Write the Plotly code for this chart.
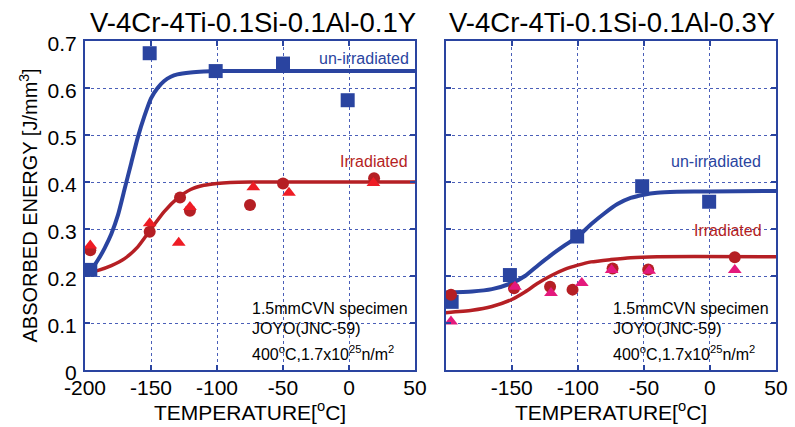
import plotly.graph_objects as go

# ---------------- data: left panel (0.1Y) ----------------
L_unirr_T = [-196, -151, -101, -50, -1]
L_unirr_E = [0.213, 0.674, 0.636, 0.652, 0.574]

L_irr_circ_T = [-196, -151, -128, -120.5, -75, -50, 19]
L_irr_circ_E = [0.255, 0.294, 0.367, 0.339, 0.351, 0.397, 0.408]

L_irr_tri_T = [-196, -151, -129, -120.5, -72.5, -45.5, 18.5]
L_irr_tri_E = [0.265, 0.312, 0.271, 0.347, 0.389, 0.377, 0.398]

L_fit_unirr_T = [-200, -195, -190, -185, -180, -175, -170, -165, -160, -155, -150,
                 -145, -140, -135, -130, -120, -110, -100, 50]
L_fit_unirr_E = [0.205, 0.215, 0.235, 0.26, 0.29, 0.33, 0.385, 0.44, 0.495, 0.54, 0.578,
                 0.60, 0.615, 0.624, 0.629, 0.633, 0.635, 0.636, 0.636]

L_fit_irr_T = [-200, -190, -180, -170, -160, -150, -140, -130, -120, -110, -100, -90, -75, 50]
L_fit_irr_E = [0.205, 0.212, 0.222, 0.237, 0.262, 0.300, 0.337, 0.365, 0.384, 0.393,
               0.397, 0.399, 0.400, 0.400]

# ---------------- data: right panel (0.3Y) ----------------
R_unirr_T = [-195.5, -151.4, -100.5, -51.3, -0.6]
R_unirr_E = [0.145, 0.202, 0.284, 0.391, 0.358]

R_irr_circ_T = [-196, -148.3, -121, -104, -73.7, -46.7, 18.8]
R_irr_circ_E = [0.160, 0.174, 0.177, 0.171, 0.216, 0.214, 0.240]

R_irr_tri_T = [-196, -147.6, -120.3, -97, -74.4, -46, 18.8]
R_irr_tri_E = [0.103, 0.177, 0.164, 0.185, 0.213, 0.211, 0.213]

R_fit_unirr_T = [-200, -180, -165, -150, -140, -130, -120, -110, -100, -90, -80, -70,
                 -60, -50, -40, -25, 0, 50]
R_fit_unirr_E = [0.165, 0.167, 0.172, 0.185, 0.20, 0.223, 0.245, 0.265, 0.284, 0.31,
                 0.333, 0.353, 0.366, 0.373, 0.377, 0.379, 0.380, 0.381]

R_fit_irr_T = [-200, -180, -165, -150, -140, -130, -120, -110, -100, -90, -75, -60, -40, 50]
R_fit_irr_E = [0.122, 0.127, 0.135, 0.150, 0.166, 0.185, 0.201, 0.214, 0.223, 0.230,
               0.235, 0.239, 0.241, 0.241]

titles = ["V-4Cr-4Ti-0.1Si-0.1Al-0.1Y", "V-4Cr-4Ti-0.1Si-0.1Al-0.3Y"]
y_ticks = [0, 0.1, 0.2, 0.3, 0.4, 0.5, 0.6, 0.7]
y_tick_text = ["0", "0.1", "0.2", "0.3", "0.4", "0.5", "0.6", "0.7"]
L_x_ticks = [-200, -150, -100, -50, 0, 50]
L_x_text = ["-200", "-150", "-100", "-50", "0", "50"]
R_x_ticks = [-200, -150, -100, -50, 0, 50]
R_x_text = ["", "-150", "-100", "-50", "0", "50"]

BLUE = "#2a44a0"
RED = "#b51f24"
TRI_L = "#ee1c25"
TRI_R = "#e4197c"
GRID = "#4a5fb8"
FONT = "Liberation Sans, Arial, sans-serif"

fig = go.Figure()

def add_panel(xa, ya, fu_T, fu_E, fi_T, fi_E, u_T, u_E, c_T, c_E, t_T, t_E, tri_col):
    fig.add_trace(go.Scatter(x=fu_T, y=fu_E, mode="lines", line=dict(color=BLUE, width=4, shape="spline", smoothing=0.6),
                             xaxis=xa, yaxis=ya, showlegend=False))
    fig.add_trace(go.Scatter(x=fi_T, y=fi_E, mode="lines", line=dict(color=RED, width=3.5, shape="spline", smoothing=0.6),
                             xaxis=xa, yaxis=ya, showlegend=False))
    fig.add_trace(go.Scatter(x=u_T, y=u_E, mode="markers", marker=dict(symbol="square", size=14, color=BLUE),
                             xaxis=xa, yaxis=ya, showlegend=False, cliponaxis=False))
    fig.add_trace(go.Scatter(x=c_T, y=c_E, mode="markers", marker=dict(symbol="circle", size=12, color=RED),
                             xaxis=xa, yaxis=ya, showlegend=False, cliponaxis=False))
    fig.add_trace(go.Scatter(x=t_T, y=t_E, mode="markers", marker=dict(symbol="triangle-up", size=12, color=tri_col),
                             xaxis=xa, yaxis=ya, showlegend=False, cliponaxis=False))

add_panel("x", "y", L_fit_unirr_T, L_fit_unirr_E, L_fit_irr_T, L_fit_irr_E,
          L_unirr_T, L_unirr_E, L_irr_circ_T, L_irr_circ_E, L_irr_tri_T, L_irr_tri_E, TRI_L)
add_panel("x2", "y2", R_fit_unirr_T, R_fit_unirr_E, R_fit_irr_T, R_fit_irr_E,
          R_unirr_T, R_unirr_E, R_irr_circ_T, R_irr_circ_E, R_irr_tri_T, R_irr_tri_E, TRI_R)

W, H = 795, 427
top_px, bot_px = 41, 370
ydom = [1 - bot_px / H, 1 - top_px / H]
Ldom = [85 / W, 415 / W]
Rdom = [445.7 / W, 776 / W]

axis_common = dict(
    automargin=False,
    showline=True, linecolor=BLUE, linewidth=2, mirror="ticks",
    ticks="inside", ticklen=5, tickcolor=BLUE, tickwidth=1.5,
    showgrid=True, gridcolor=GRID, griddash="dot", gridwidth=1,
    zeroline=False, tickfont=dict(family=FONT, size=21, color="black"),
)

fig.update_layout(
    template="none",
    width=W, height=H, margin=dict(l=0, r=0, t=0, b=0, pad=0),
    paper_bgcolor="white", plot_bgcolor="white",
    font=dict(family=FONT, color="black"),
    xaxis=dict(domain=Ldom, range=[-200, 50], tickvals=L_x_ticks, ticktext=L_x_text, anchor="y",
               ticklabelstandoff=-2, **axis_common),
    yaxis=dict(domain=ydom, range=[0, 0.7], tickvals=y_ticks, ticktext=y_tick_text, anchor="x",
               ticklabelstandoff=2, ticklabelshift=3, **axis_common),
    xaxis2=dict(domain=Rdom, range=[-200, 50], tickvals=R_x_ticks, ticktext=R_x_text, anchor="y2",
                ticklabelstandoff=-2, **axis_common),
    yaxis2=dict(domain=ydom, range=[0, 0.7], tickvals=y_ticks, showticklabels=False, anchor="x2", **axis_common),
)

ann = []
# titles
title_centers = [253 / W, 612 / W]
for i, t in enumerate(titles):
    ann.append(dict(text=t, x=title_centers[i], y=1 - 22.5 / H, xref="paper", yref="paper",
                    xanchor="center", yanchor="middle", showarrow=False,
                    font=dict(family=FONT, size=27.5, color="black")))
# x axis titles
for dom in (Ldom, Rdom):
    ann.append(dict(text="TEMPERATURE[<sup>o</sup>C]", x=(dom[0] + dom[1]) / 2, y=1 - 411 / H,
                    xref="paper", yref="paper", xanchor="center", yanchor="middle", showarrow=False,
                    font=dict(family=FONT, size=21, color="black")))
# y axis title
ann.append(dict(text="ABSORBED ENERGY [J/mm<sup>3</sup>]", x=28 / W, y=(ydom[0] + ydom[1]) / 2,
                xref="paper", yref="paper", xanchor="center", yanchor="middle", textangle=-90,
                showarrow=False, font=dict(family=FONT, size=20, color="black")))
# curve labels
ann.append(dict(text="un-irradiated", x=47, y=0.663, xref="x", yref="y", xanchor="right", yanchor="middle",
                showarrow=False, font=dict(family=FONT, size=16, color=BLUE)))
ann.append(dict(text="Irradiated", x=46, y=0.443, xref="x", yref="y", xanchor="right", yanchor="middle",
                showarrow=False, font=dict(family=FONT, size=16, color=RED)))
ann.append(dict(text="un-irradiated", x=40, y=0.443, xref="x2", yref="y2", xanchor="right", yanchor="middle",
                showarrow=False, font=dict(family=FONT, size=16, color=BLUE)))
ann.append(dict(text="Irradiated", x=41, y=0.296, xref="x2", yref="y2", xanchor="right", yanchor="middle",
                showarrow=False, font=dict(family=FONT, size=16, color=RED)))
# condition text
for xr, yr in (("x", "y"), ("x2", "y2")):
    ann.append(dict(text="1.5mmCVN specimen", x=-75, y=0.131, xref=xr, yref=yr, xanchor="left",
                    yanchor="middle", showarrow=False, font=dict(family=FONT, size=16, color="black")))
    ann.append(dict(text="JOYO(JNC-59)", x=-75, y=0.089, xref=xr, yref=yr, xanchor="left",
                    yanchor="middle", showarrow=False, font=dict(family=FONT, size=16, color="black")))
    ann.append(dict(text="400<sup>o</sup>C,1.7x10<sup>25</sup>n/m<sup>2</sup>", x=-75, y=0.036, xref=xr, yref=yr,
                    xanchor="left", yanchor="middle", showarrow=False,
                    font=dict(family=FONT, size=16, color="black")))
fig.update_layout(annotations=ann)

fig.write_html("out.html")
